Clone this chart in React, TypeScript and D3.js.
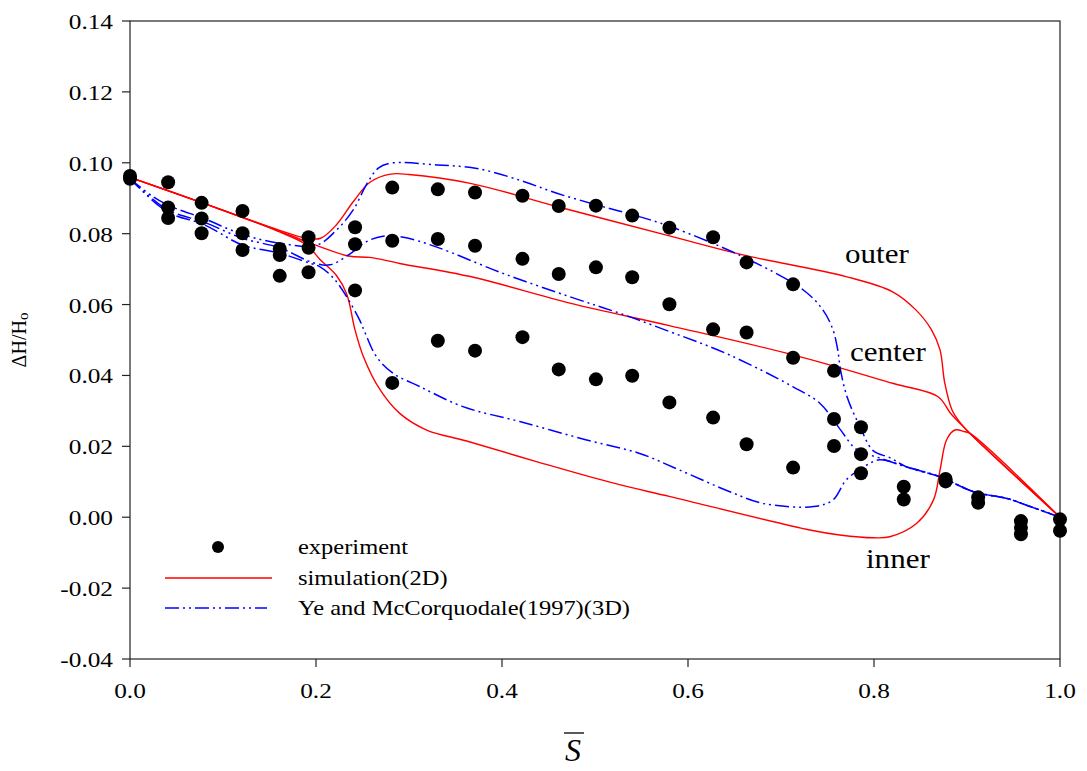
import * as d3 from 'd3';
import React from 'react';

// experiment points (S-bar, dH/Ho)
const expS = [
  0, 0,
  0.041, 0.041, 0.041,
  0.077, 0.077, 0.077,
  0.121, 0.121, 0.121,
  0.161, 0.161, 0.161,
  0.192, 0.192, 0.192,
  0.242, 0.242, 0.242,
  0.282, 0.282, 0.282,
  0.331, 0.331, 0.331,
  0.371, 0.371, 0.371,
  0.422, 0.422, 0.422,
  0.461, 0.461, 0.461,
  0.501, 0.501, 0.501,
  0.540, 0.540, 0.540,
  0.580, 0.580, 0.580,
  0.627, 0.627, 0.627,
  0.663, 0.663, 0.663,
  0.713, 0.713, 0.713,
  0.757, 0.757, 0.757,
  0.786, 0.786, 0.786,
  0.832, 0.832,
  0.877, 0.877,
  0.912, 0.912,
  0.958, 0.958, 0.958,
  1.0, 1.0,
];
const expH = [
  0.0963, 0.0955,
  0.0945, 0.0874, 0.0844,
  0.0887, 0.0843, 0.0801,
  0.0864, 0.0801, 0.0754,
  0.0757, 0.0740, 0.0681,
  0.0790, 0.0760, 0.0691,
  0.0818, 0.0770, 0.0640,
  0.0930, 0.0780, 0.0379,
  0.0925, 0.0785, 0.0498,
  0.0916, 0.0766, 0.0470,
  0.0907, 0.0729, 0.0508,
  0.0878, 0.0686, 0.0417,
  0.0879, 0.0705, 0.0389,
  0.0851, 0.0677, 0.0399,
  0.0817, 0.0601, 0.0324,
  0.0790, 0.0530, 0.0281,
  0.0719, 0.0521, 0.0206,
  0.0657, 0.0450, 0.0140,
  0.0413, 0.0277, 0.0201,
  0.0254, 0.0178, 0.0124,
  0.0086, 0.0050,
  0.0108, 0.0101,
  0.0056, 0.0041,
  -0.0011, -0.0030, -0.0048,
  -0.0006, -0.0038,
];

// simulation(2D) - red
const simOuter: [number, number][] = [
  [0, 0.0959], [0.08, 0.0885], [0.158, 0.0812], [0.19, 0.0787], [0.205, 0.0787],
  [0.222, 0.0825], [0.24, 0.089], [0.258, 0.0945], [0.28, 0.0968], [0.30, 0.0967],
  [0.366, 0.0942], [0.46, 0.0876], [0.581, 0.0793], [0.659, 0.074], [0.77, 0.0679],
  [0.82, 0.0636], [0.845, 0.0585], [0.862, 0.0528], [0.871, 0.0472], [0.876, 0.038],
  [0.884, 0.0302], [0.892, 0.0269], [0.903, 0.0237], [1.0, 0.0],
];
const simCenter: [number, number][] = [
  [0, 0.0959], [0.08, 0.0885], [0.158, 0.081], [0.19, 0.0777], [0.235, 0.0737],
  [0.258, 0.0733], [0.29, 0.0716], [0.366, 0.0679], [0.473, 0.0604], [0.581, 0.054],
  [0.713, 0.0458], [0.82, 0.0378], [0.869, 0.034], [0.882, 0.0294], [0.892, 0.0266],
  [0.903, 0.0237], [1.0, 0.0],
];
const simInner: [number, number][] = [
  [0, 0.0959], [0.08, 0.0885], [0.158, 0.0808], [0.19, 0.0768], [0.204, 0.0728],
  [0.222, 0.0682], [0.233, 0.063], [0.242, 0.0528], [0.251, 0.0453], [0.269, 0.0359],
  [0.29, 0.0293], [0.319, 0.0246], [0.362, 0.0215], [0.437, 0.0157], [0.52, 0.0096],
  [0.581, 0.0058], [0.731, -0.0036], [0.763, -0.005], [0.80, -0.0058], [0.817, -0.0055],
  [0.846, -0.0017], [0.864, 0.0049], [0.871, 0.0133], [0.878, 0.0218], [0.887, 0.0246],
  [0.898, 0.0241], [0.903, 0.0237], [1.0, 0.0],
];

// Ye and McCorquodale (1997) 3D - blue
const yeTail: [number, number][] = [
  [0.835, 0.0142], [0.871, 0.0114], [0.907, 0.0072], [0.943, 0.0053], [0.964, 0.0034], [1.0, 0.0],
];
const yeOuter: [number, number][] = [
  [0, 0.0955], [0.025, 0.0904], [0.043, 0.0878], [0.08, 0.0842], [0.121, 0.0798],
  [0.161, 0.0773], [0.201, 0.0768], [0.222, 0.081], [0.24, 0.0867], [0.255, 0.0942],
  [0.267, 0.0985], [0.28, 0.0999], [0.33, 0.0994], [0.373, 0.0984], [0.419, 0.0951],
  [0.459, 0.0914], [0.502, 0.0881], [0.541, 0.0853], [0.581, 0.082], [0.659, 0.0735],
  [0.724, 0.0641], [0.745, 0.0585], [0.756, 0.0528], [0.761, 0.0472], [0.764, 0.0416],
  [0.771, 0.034], [0.785, 0.0255], [0.799, 0.0188], [0.817, 0.0168],
];
const yeCenter: [number, number][] = [
  [0, 0.0955], [0.04, 0.0868], [0.08, 0.0832], [0.121, 0.0787], [0.161, 0.076],
  [0.197, 0.0718], [0.215, 0.0712], [0.235, 0.074], [0.254, 0.0777], [0.272, 0.0793],
  [0.294, 0.079], [0.33, 0.0762], [0.401, 0.0688], [0.473, 0.0622], [0.527, 0.0575],
  [0.581, 0.0523], [0.641, 0.0462], [0.713, 0.0368], [0.742, 0.0321], [0.763, 0.025],
  [0.781, 0.0192], [0.806, 0.0167],
];
const yeInner: [number, number][] = [
  [0, 0.0955], [0.04, 0.0862], [0.08, 0.0825], [0.121, 0.0768], [0.161, 0.0745],
  [0.194, 0.0716], [0.204, 0.0707], [0.219, 0.0674], [0.233, 0.0622], [0.247, 0.0556],
  [0.253, 0.0519], [0.265, 0.0453], [0.283, 0.0406], [0.312, 0.0368], [0.358, 0.0312],
  [0.419, 0.027], [0.491, 0.0218], [0.548, 0.018], [0.591, 0.0133], [0.645, 0.0072],
  [0.681, 0.0039], [0.735, 0.003], [0.756, 0.0049], [0.77, 0.0105], [0.789, 0.0142],
  [0.806, 0.0162],
];

const yTicks = [0.14, 0.12, 0.1, 0.08, 0.06, 0.04, 0.02, 0.0, -0.02, -0.04];
const yTickLabels = ['0.14', '0.12', '0.10', '0.08', '0.06', '0.04', '0.02', '0.00', '-0.02', '-0.04'];
const xTicks = [0, 0.2, 0.4, 0.6, 0.8, 1.0];
const xTickLabels = ['0.0', '0.2', '0.4', '0.6', '0.8', '1.0'];

const legendLabels = ['experiment', 'simulation(2D)', 'Ye and McCorquodale(1997)(3D)'];

const W = 1087;
const H = 771;
const FONT = '"Liberation Serif", "Times New Roman", serif';
const RED = '#ff0000';
const BLUE = '#0000ff';
const DASH = '14,4,2,4,2,4';
const SX = 1.15; // horizontal text stretch, the original is a bit wide

const App = () => {
  const x = d3.scaleLinear().domain([0, 1]).range([130, 1060]);
  const y = d3.scaleLinear().domain([-0.04, 0.14]).range([659, 21]);

  const line = d3.line<[number, number]>()
    .x((d) => x(d[0]))
    .y((d) => y(d[1]))
    .curve(d3.curveCatmullRom.alpha(0.5));

  const txt = (tx: number, ty: number, s: string, size: number, anchor = 'start') => (
    <text
      transform={`translate(${tx},${ty}) scale(${SX},1)`}
      fontSize={size}
      textAnchor={anchor}
      fontFamily={FONT}
    >
      {s}
    </text>
  );

  return (
    <svg width={W} height={H} style={{ position: 'absolute', left: 0, top: 0, background: '#fff' }}>
      <rect x={0} y={0} width={W} height={H} fill="#fff" />

      {/* frame */}
      <rect x={x(0)} y={y(0.14)} width={x(1) - x(0)} height={y(-0.04) - y(0.14)} fill="none" stroke="#222" strokeWidth={1.2} />

      {/* y ticks */}
      {yTicks.map((t, i) => (
        <g key={'yt' + i}>
          <line x1={x(0) - 8} x2={x(0)} y1={y(t)} y2={y(t)} stroke="#222" strokeWidth={1.2} />
          {txt(113, y(t) + 8, yTickLabels[i], 22, 'end')}
        </g>
      ))}

      {/* x ticks */}
      {xTicks.map((t, i) => (
        <g key={'xt' + i}>
          <line x1={x(t)} x2={x(t)} y1={y(-0.04)} y2={y(-0.04) + 8} stroke="#222" strokeWidth={1.2} />
          {txt(x(t), 698, xTickLabels[i], 22, 'middle')}
        </g>
      ))}

      {/* axis titles */}
      <text transform={`translate(26,340) rotate(-90)`} fontSize={20} textAnchor="middle" fontFamily={FONT}>
        ΔH/H<tspan fontSize={15} dy={2}>o</tspan>
      </text>
      <g transform="translate(573,761)">
        <text fontSize={32} fontStyle="italic" textAnchor="middle" fontFamily={FONT}>S</text>
        <line x1={-9} x2={11} y1={-28} y2={-28} stroke="#000" strokeWidth={1.3} />
      </g>

      {/* simulation 2D */}
      {[simOuter, simCenter, simInner].map((d, i) => (
        <path key={'sim' + i} d={line(d) || ''} fill="none" stroke={RED} strokeWidth={1.4} />
      ))}

      {/* Ye and McCorquodale */}
      {[yeOuter.concat(yeTail), yeCenter.concat(yeTail), yeInner.concat(yeTail)].map((d, i) => (
        <path key={'ye' + i} d={line(d) || ''} fill="none" stroke={BLUE} strokeWidth={1.5} strokeDasharray={DASH} />
      ))}

      {/* experiment */}
      {expS.map((s, i) => (
        <circle key={'e' + i} cx={x(s)} cy={y(expH[i])} r={7} fill="#000" />
      ))}

      {/* curve labels */}
      {txt(845, 263, 'outer', 27)}
      {txt(850, 361, 'center', 27)}
      {txt(866, 568, 'inner', 27)}

      {/* legend */}
      <circle cx={218} cy={547} r={6} fill="#000" />
      <line x1={165} x2={272} y1={578} y2={578} stroke={RED} strokeWidth={1.4} />
      <line x1={165} x2={267} y1={608} y2={608} stroke={BLUE} strokeWidth={1.5} strokeDasharray={DASH} />
      {txt(298, 554, legendLabels[0], 21.3)}
      {txt(298, 585, legendLabels[1], 21.3)}
      {txt(298, 615, legendLabels[2], 21.3)}
    </svg>
  );
};

export default App;
